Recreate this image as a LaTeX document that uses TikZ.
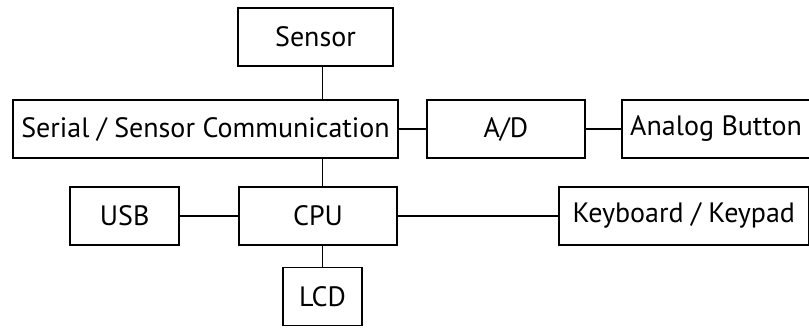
\documentclass[tikz,border=0pt]{standalone}
\usepackage{fontspec}
\setmainfont{PT Sans}
\usetikzlibrary{positioning}
\tikzstyle{block} = [rectangle, draw, line width=1.8pt, text centered, minimum height=58pt, inner sep=0pt, font=\fontsize{28}{32}\selectfont]
\tikzstyle{link} = [line width=1.8pt]

\begin{document}
\begin{tikzpicture}[x=1pt, y=-1pt]
        \fill[white] (0,0) rectangle (809,328);
        \useasboundingbox (0,0) rectangle (809,328);
        \node[block, minimum width=385pt] (serial) at (205.5,129) {Serial / Sensor Communication};
        \node[block, minimum width=155pt, above left=32pt and 5pt of serial.north east] (sensor) {Sensor};
        \node[block, minimum width=158pt, right=27pt of serial] (ad) {A/D};
        \node[block, minimum width=189pt, right=35pt of ad] (analog) {Analog Button};
        \node[block, minimum width=158pt, below left=27pt and 1pt of serial.south east] (cpu) {CPU};
        \node[block, minimum width=109pt, left=58pt of cpu] (usb) {USB};
        \node[block, minimum width=250pt, right=160pt of cpu] (keyboard) {Keyboard / Keypad};
        \node[block, minimum width=79pt, below=21pt of cpu, xshift=4.5pt] (lcd) {LCD};
        \draw[link] (sensor.south -| lcd) -- (serial.north -| lcd);
        \draw[link] (serial.south -| lcd) -- (cpu.north -| lcd);
        \draw[link] (cpu.south -| lcd) -- (lcd.north);
        \draw[link] (serial) -- (ad);
        \draw[link] (ad) -- (analog);
        \draw[link] (usb) -- (cpu);
        \draw[link] (cpu) -- (keyboard);
    \end{tikzpicture}
\end{document}
